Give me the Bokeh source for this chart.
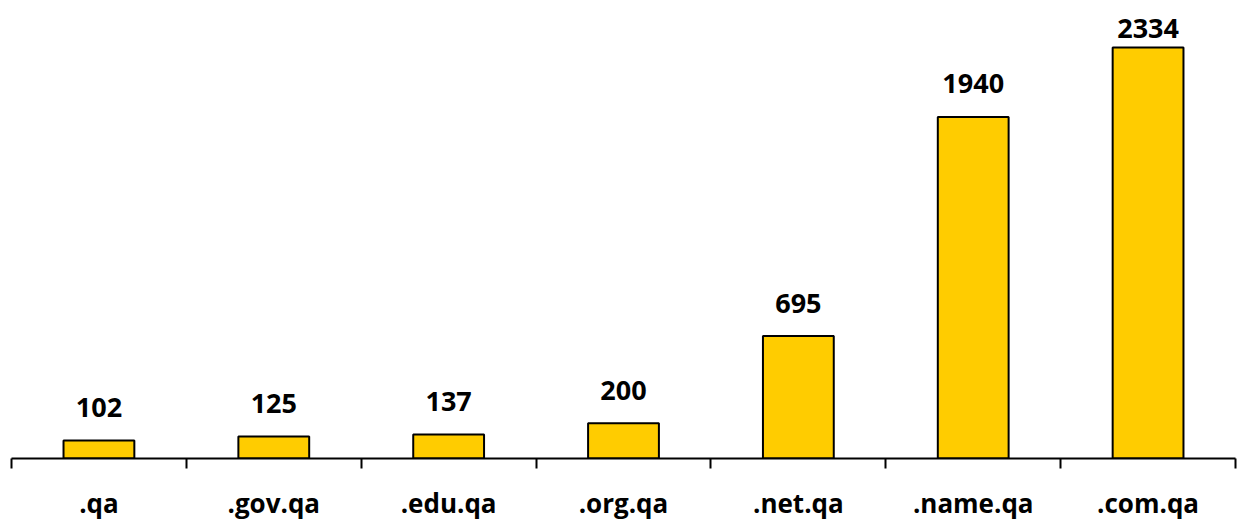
from bokeh.plotting import figure
from bokeh.models import Range1d, FixedTicker, ColumnDataSource
from bokeh.core.properties import value
from bokeh.embed import file_html
from bokeh.resources import INLINE

categories = [".qa", ".gov.qa", ".edu.qa", ".org.qa", ".net.qa", ".name.qa", ".com.qa"]
counts = [102, 125, 137, 200, 695, 1940, 2334]

Y_MAX = 2601
FRAME_H = 458
ppu = FRAME_H / Y_MAX
GAP = 24          # label baseline gap above bar
MIN_BASE = 37     # label baseline may not rise above this pixel row
# pixel-space offset of each value label (label kept inside the chart area)
offsets = []
for v in counts:
    top_px = FRAME_H - v * ppu
    base_px = max(top_px - GAP, MIN_BASE)
    offsets.append(-(top_px - base_px) - 9)

xs = [i + 0.5 for i in range(len(categories))]
src = ColumnDataSource(dict(x=xs, top=counts, label=[str(c) for c in counts], off=offsets))

p = figure(width=1240, height=531, output_backend="svg", toolbar_location=None,
           x_range=Range1d(0, len(categories)), y_range=Range1d(0, Y_MAX),
           min_border_left=11, min_border_right=5, min_border_top=0, min_border_bottom=73)
p.outline_line_color = None
p.xgrid.visible = False
p.ygrid.visible = False
p.yaxis.visible = False
p.background_fill_color = "white"

p.vbar(x="x", top="top", width=0.405, bottom=0, source=src,
       fill_color="#FFCC00", line_color="black", line_width=2)

p.text(x="x", y="top", text="label", source=src, text_align="center",
       text_baseline="alphabetic", y_offset="off", text_font=value("Open Sans"),
       text_font_style="bold", text_font_size="27px", text_color="black")

ax = p.xaxis[0]
ax.ticker = FixedTicker(ticks=xs, minor_ticks=list(range(len(categories) + 1)))
ax.major_label_overrides = {x: c for x, c in zip(xs, categories)}
ax.major_tick_line_color = None
ax.major_tick_out = 0
ax.major_tick_in = 0
ax.minor_tick_out = 10
ax.minor_tick_in = 0
ax.minor_tick_line_color = "black"
ax.minor_tick_line_width = 2
ax.axis_line_color = "black"
ax.axis_line_width = 2
ax.major_label_text_font = "Open Sans"
ax.major_label_text_font_style = "bold"
ax.major_label_text_font_size = "26px"
ax.major_label_text_color = "black"
ax.major_label_standoff = 16

open("out.html", "w").write(file_html(p, INLINE))
